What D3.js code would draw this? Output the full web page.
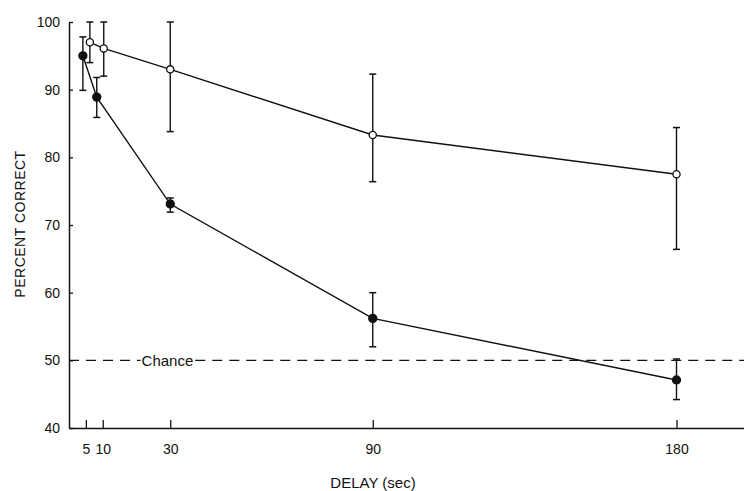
<!DOCTYPE html>
<html>
<head>
<meta charset="utf-8">
<script src="https://cdn.jsdelivr.net/npm/d3@7"></script>
<style>
  html, body { margin: 0; padding: 0; background: #fff; }
  svg { display: block; font-family: "Liberation Sans", Arial, Helvetica, sans-serif; }
</style>
</head>
<body>
<svg id="chart" width="744" height="491"></svg>
<script>
// ---- data ----
const delays = [5, 10, 30, 90, 180];
const openMean = [97, 96.1, 93, 83.3, 77.5];
const openHi   = [100, 100, 100, 92.3, 84.4];
const openLo   = [94, 92, 83.8, 76.4, 66.4];
const filledMean = [95, 88.9, 73.1, 56.2, 47.1];
const filledHi   = [97.8, 91.8, 74, 60, 50.2];
const filledLo   = [89.9, 85.9, 71.9, 52, 44.2];
const xTicks = [5, 10, 30, 90, 180];
const yTicks = [40, 50, 60, 70, 80, 90, 100];
const chanceLevel = 50;
const chanceLabel = "Chance";
const chanceLabelDelay = 21.5;
const xLabel = "DELAY (sec)";
const yLabel = "PERCENT CORRECT";

// small horizontal dodge (px) to separate overlapping markers
const openDodge = [4, 1, 0, 0, 0];
const filledDodge = [-3, -6, 0, 0, 0];

const svg = d3.select("#chart");
const x = d3.scaleLinear().domain([0, 200]).range([69, 744]);
const y = d3.scaleLinear().domain([40, 100]).range([428, 22]);

const ink = "#111";

// axes
const xAxis = d3.axisBottom(x).tickValues(xTicks).tickSizeInner(-8).tickSizeOuter(0).tickPadding(16);
const gx = svg.append("g").attr("transform", `translate(0,${y(40)})`).call(xAxis);
gx.select(".domain").attr("stroke", ink).attr("stroke-width", 1.5);
gx.selectAll(".tick line").attr("stroke", ink).attr("stroke-width", 1.3);
gx.selectAll(".tick text").attr("font-size", 14).attr("fill", ink).attr("font-family", "Liberation Sans, Arial, sans-serif");

const yAxis = d3.axisLeft(y).tickValues(yTicks).tickSizeInner(-4).tickSizeOuter(0).tickPadding(9);
const gy = svg.append("g").attr("transform", `translate(${x(0)},0)`).call(yAxis);
gy.select(".domain").attr("stroke", ink).attr("stroke-width", 1.5);
gy.selectAll(".tick line").attr("stroke", ink).attr("stroke-width", 1.3);
gy.selectAll(".tick text").attr("font-size", 14).attr("fill", ink).attr("font-family", "Liberation Sans, Arial, sans-serif");

// chance line with label
const lbl = svg.append("text")
  .attr("x", x(chanceLabelDelay))
  .attr("y", y(chanceLevel))
  .attr("dy", "0.35em")
  .attr("font-size", 15)
  .attr("fill", ink)
  .text(chanceLabel);
const lw = lbl.node().getComputedTextLength();
const segs = [[x(0), x(chanceLabelDelay) - 1], [x(chanceLabelDelay) + lw + 2, x(200)]];
svg.selectAll("line.chance").data(segs).enter().append("line")
  .attr("class", "chance")
  .attr("x1", d => d[0]).attr("x2", d => d[1])
  .attr("y1", y(chanceLevel)).attr("y2", y(chanceLevel))
  .attr("stroke", ink).attr("stroke-width", 1.1)
  .attr("stroke-dasharray", "10,7");

// series
function makeSeries(mean, hi, lo, dodge) {
  return delays.map((d, i) => ({ d, m: mean[i], hi: hi[i], lo: lo[i], dx: dodge[i] }));
}
const openData = makeSeries(openMean, openHi, openLo, openDodge);
const filledData = makeSeries(filledMean, filledHi, filledLo, filledDodge);

const line = d3.line().x(p => x(p.d) + p.dx).y(p => y(p.m));
const cap = 3.5;

function drawSeries(data, filled) {
  const g = svg.append("g");
  g.append("path").datum(data)
    .attr("d", line).attr("fill", "none").attr("stroke", ink).attr("stroke-width", 1.4);
  const eb = g.selectAll("g.eb").data(data).enter().append("g");
  eb.append("line")
    .attr("x1", p => x(p.d) + p.dx).attr("x2", p => x(p.d) + p.dx)
    .attr("y1", p => y(p.hi)).attr("y2", p => y(p.lo))
    .attr("stroke", ink).attr("stroke-width", 1.4);
  ["hi", "lo"].forEach(k => {
    eb.append("line")
      .attr("x1", p => x(p.d) + p.dx - cap).attr("x2", p => x(p.d) + p.dx + cap)
      .attr("y1", p => y(p[k])).attr("y2", p => y(p[k]))
      .attr("stroke", ink).attr("stroke-width", 1.5);
  });
  g.selectAll("circle").data(data).enter().append("circle")
    .attr("cx", p => x(p.d) + p.dx).attr("cy", p => y(p.m))
    .attr("r", filled ? 4 : 3.6)
    .attr("fill", filled ? ink : "#fff")
    .attr("stroke", ink).attr("stroke-width", 1.3);
}
drawSeries(openData, false);
drawSeries(filledData, true);

// axis titles
svg.append("text")
  .attr("x", 373).attr("y", 488)
  .attr("text-anchor", "middle")
  .attr("font-size", 15).attr("fill", ink)
  .text(xLabel);
svg.append("text")
  .attr("transform", "translate(25,224) rotate(-90)")
  .attr("text-anchor", "middle")
  .attr("font-size", 14).attr("letter-spacing", 0.5).attr("fill", ink)
  .text(yLabel);
</script>
</body>
</html>
